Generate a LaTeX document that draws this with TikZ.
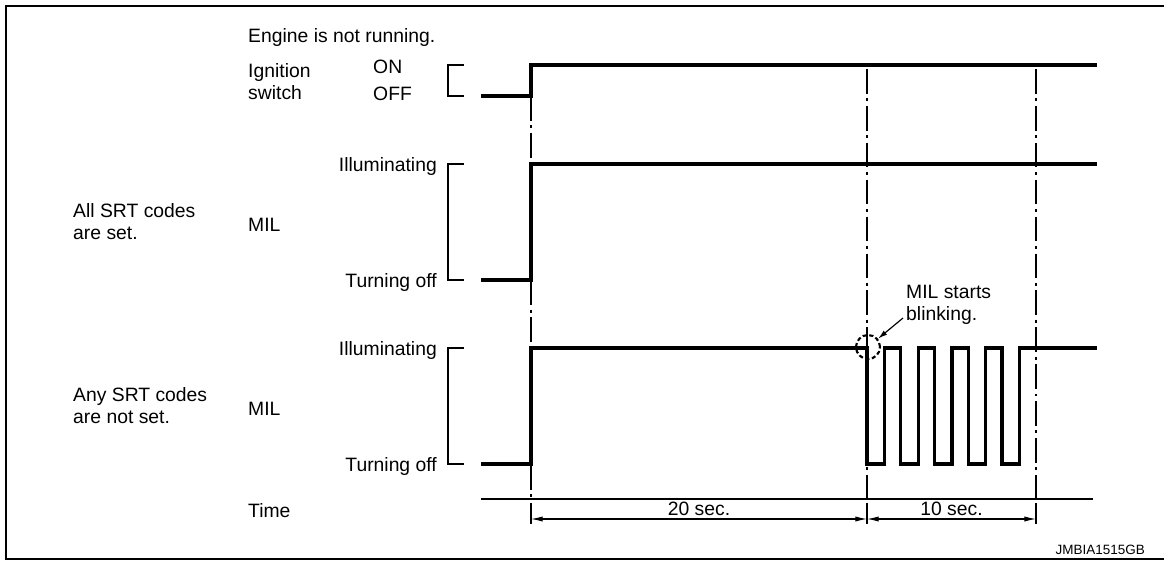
\documentclass[tikz,border=0pt]{standalone}
\usepackage{fontspec}
\setmainfont{Liberation Sans}
\usetikzlibrary{arrows.meta, positioning, calc}
\definecolor{ink}{HTML}{000000}
\tikzset{
  every picture/.style={x=0.3mm, y=-0.3mm},
  lbl/.style={font=\fontsize{16.5}{18.8}\selectfont, inner sep=0pt, align=left},
  tag/.style={font=\fontsize{11.5}{13}\selectfont, inner sep=0pt},
  frame/.style={draw=ink, line width=2.2pt},
  signal/.style={draw=ink, line width=2.8pt, line join=miter},
  bracket/.style={draw=ink, line width=1.1pt},
  guide/.style={draw=ink, line width=0.9pt, dash pattern=on 21pt off 4pt on 2.5pt off 4pt},
  axis/.style={draw=ink, line width=1.1pt},
  dim/.style={{Latex[length=10pt,width=4.5pt]}-{Latex[length=10pt,width=4.5pt]}, draw=ink, line width=0.9pt},
  pointer/.style={-{Latex[length=8pt,width=4.5pt]}, draw=ink, line width=1pt},
}

\begin{document}
\begin{tikzpicture}
  \useasboundingbox (0,0) rectangle (1164,561);
  \draw[frame] (1164,6) -- (6,6) -- (6,559) -- (1164,559);

  % guide lines first, signals on top
  \foreach \gx/\gy in {531/96, 867/69, 1036/69}
    \draw[guide] (\gx,\gy) -- (\gx,499);

  % left column
  \node[lbl, anchor=base west] (eng) at (248,42) {Engine is not running.};
  \node[lbl, anchor=north west] (ign) at (248,63) {Ignition\\switch};
  \node[lbl, anchor=base west] (on) at (373,73) {ON};
  \node[lbl, anchor=base west] (off) at (373,100) {OFF};
  \node[lbl, anchor=north west] (allset) at (73,203) {All SRT codes\\are set.};
  \node[lbl, anchor=base west] (mila) at (248,231) {MIL};
  \node[lbl, anchor=north west] (notset) at (73,387) {Any SRT codes\\are not set.};
  \node[lbl, anchor=base west] (milb) at (248,415) {MIL};
  \foreach \lv/\nm in {164/illa, 348/illb}
    \node[lbl, anchor=base east] (\nm) at (437,\lv+7) {Illuminating};
  \foreach \lv/\nm in {280/offa, 464/offb}
    \node[lbl, anchor=base east] (\nm) at (437,\lv+7) {Turning off};
  \node[lbl, anchor=base west] (time) at (248,517) {Time};

  % level brackets
  \foreach \hi/\lo in {65/96, 164/280, 348/464}
    \draw[bracket] (464,\hi) -| (448,\lo) -- (464,\lo);

  % ignition switch and MIL
  \draw[signal] (481,96) -- (531,96) -- (531,65) -- (1097,65);
  \draw[signal] (481,280) -- (531,280) -- (531,164) -- (1097,164);
  \draw[signal] (481,464) -- (531,464) -- (531,348)
    foreach \k in {0,...,4} {
      -- ({867+33.75*\k},348) -- ({867+33.75*\k},464)
      -- ({884.5+33.75*\k},464) -- ({884.5+33.75*\k},348)
    } -- (1097,348);

  % blinking note
  \node[circle, draw=ink, dash pattern=on 3.5pt off 2.2pt, line width=1.8pt, minimum size=7.2mm, inner sep=0pt] (blink) at (868,347) {};
  \node[lbl, anchor=north west] (note) at (906,285) {MIL starts\\blinking.};
  \coordinate (tail) at (903,318);
  \draw[pointer] (tail) -- (blink);

  % time axis
  \draw[axis] (481,499) -- (1093,499);
  \foreach \gx/\nm in {531/t0, 867/t1, 1036/t2} {
    \draw[bracket, line width=0.9pt] (\gx,503) -- (\gx,524);
    \coordinate (\nm) at (\gx,519);
  }
  \draw[dim] (t0) -- (t1) node[lbl, midway, above=2pt] (twenty) {20 sec.};
  \draw[dim] (t1) -- (t2) node[lbl, midway, above=2pt] (ten) {10 sec.};

  \node[tag, anchor=base east] (code) at (1145,554) {JMBIA1515GB};
\end{tikzpicture}
\end{document}
